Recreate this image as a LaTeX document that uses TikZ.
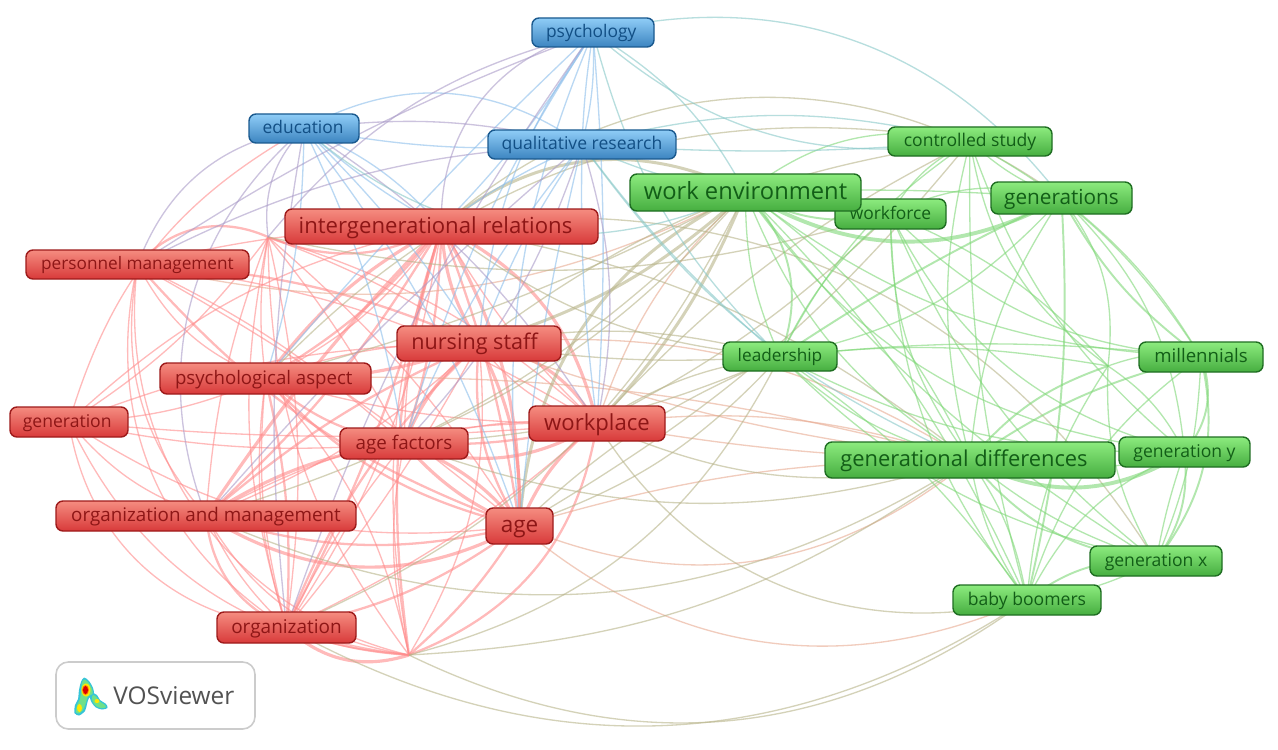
\documentclass[tikz,border=0pt]{standalone}
\usepackage{fontspec}
\setmainfont{Open Sans}
\usetikzlibrary{backgrounds}

\definecolor{redtop}{HTML}{F58C80}
\definecolor{redbot}{HTML}{D83A3A}
\definecolor{redline}{HTML}{9E1B1B}
\definecolor{redtext}{HTML}{8E1616}
\definecolor{greentop}{HTML}{8CEB7E}
\definecolor{greenbot}{HTML}{46AE40}
\definecolor{greenline}{HTML}{1F6E22}
\definecolor{greentext}{HTML}{125E17}
\definecolor{bluetop}{HTML}{8FCDF7}
\definecolor{bluebot}{HTML}{3C84C0}
\definecolor{blueline}{HTML}{1B5A8F}
\definecolor{bluetext}{HTML}{124F85}
\definecolor{logocyan}{HTML}{35C4D8}
\definecolor{logogreen}{HTML}{6FE08A}

\tikzset{
  box/.style 2 args={minimum width=#1*0.02cm, minimum height=#2*0.02cm, inner sep=0pt, rounded corners=4pt, line width=0.8pt},
  rednode/.style={draw=redline, top color=redtop, bottom color=redbot, text=redtext},
  greennode/.style={draw=greenline, top color=greentop, bottom color=greenbot, text=greentext},
  bluenode/.style={draw=blueline, top color=bluetop, bottom color=bluebot, text=bluetext},
  fs/.style={font=\fontsize{#1}{13}\selectfont, text height=#1*0.8pt, text depth=#1*0.2pt},
  thin link/.style={line width=0.75pt, opacity=0.6},
  mid link/.style={line width=1.3pt, opacity=0.6},
  thick link/.style={line width=2.2pt, opacity=0.6},
  redl/.style={draw={rgb,255:red,255;green,140;blue,140}},
  greenl/.style={draw={rgb,255:red,128;green,216;blue,120}},
  bluel/.style={draw={rgb,255:red,140;green,190;blue,235}},
  tanl/.style={draw={rgb,255:red,184;green,180;blue,138}},
  rustl/.style={draw={rgb,255:red,232;green,170;blue,145}},
  purpl/.style={draw={rgb,255:red,170;green,155;blue,200}},
  teall/.style={draw={rgb,255:red,136;green,200;blue,200}}
}

\begin{document}
\begin{tikzpicture}[x=0.02cm, y=-0.02cm]
\useasboundingbox (0,0) rectangle (1278,750);

% hidden items, the links still meet there
\coordinate (hubA) at (268,237);
\coordinate (hubB) at (409,655);
\coordinate (hubC) at (1108,366);

% blue cluster
\node[bluenode, fs=9.9, box={122}{29}] (psych) at (593,32.5) {psychology\hspace*{2pt}};
\node[bluenode, fs=9.9, box={110}{29}] (educ) at (304,128.5) {education\hspace*{1pt}};
\node[bluenode, fs=10, box={188}{29}] (qual) at (582,144.5) {qualitative research};

% green cluster
\node[greennode, fs=9.9, box={111}{30}] (workf) at (890.5,214) {workforce};
\node[greennode, fs=13.5, box={231}{37}] (workenv) at (745.5,192.5) {work environment};
\node[greennode, fs=10, box={164}{29}] (ctrl) at (970,141.5) {controlled study};
\node[greennode, fs=11.8, box={141}{32}] (gens) at (1061.5,198) {generations};
\node[greennode, fs=9.8, box={114}{29}] (lead) at (780,356.5) {leadership};
\node[greennode, fs=10.6, box={124}{30}] (mill) at (1201,357) {millennials};
\node[greennode, fs=12.45, box={290}{36}] (gendiff) at (970,460) {generational differences\hspace*{6.8pt}};
\node[greennode, fs=10, box={131}{30}] (geny) at (1184.5,452) {generation y};
\node[greennode, fs=10, box={132}{30}] (genx) at (1156,561) {generation x};
\node[greennode, fs=10, box={148}{30}] (baby) at (1027,600) {baby boomers};

% red cluster
\node[rednode, fs=12.6, box={313}{35}] (inter) at (441.5,226.5) {intergenerational relations\hspace*{6.8pt}};
\node[rednode, fs=9.8, box={223}{29}] (persm) at (137.5,264.5) {personnel management};
\node[rednode, fs=12.3, box={164}{35}] (nurse) at (479,343.5) {nursing staff\hspace*{5pt}};
\node[rednode, fs=10.6, box={211}{31}] (psyasp) at (265.5,378.5) {psychological aspect\hspace*{2pt}};
\node[rednode, fs=10, box={118}{30}] (genr) at (69,422) {generation\hspace*{2pt}};
\node[rednode, fs=12.6, box={136}{35}] (wplace) at (597,423.5) {workplace};
\node[rednode, fs=10.7, box={128}{31}] (agef) at (404,443.5) {age factors};
\node[rednode, fs=10.7, box={300}{30}] (orgm) at (206,516) {organization and management};
\node[rednode, fs=12.8, box={67}{36}] (age) at (519.5,526) {age};
\node[rednode, fs=10.8, box={139}{31}] (orgn) at (286.5,627.5) {organization};

% logo panel
\node[draw=black!20, line width=0.9pt, fill=white, rounded corners=7pt, minimum width=199*0.02cm, minimum height=67*0.02cm] (logobox) at (155.5,695.5) {};
\node[text=black!68, font=\fontsize{13.9}{16}\selectfont, anchor=west, inner sep=0pt] (logotext) at (113,695.5) {VOSviewer};
\fill[logocyan] plot[smooth cycle] coordinates {(84,677.5) (89,681) (93,688) (94,695) (89,698) (87,704) (85,711) (79,715.5) (74.5,713) (75,705) (78,699) (79,690) (81,682)};
\fill[logocyan] plot[smooth cycle] coordinates {(92,693) (97,695) (100,700) (106,704) (107.5,708) (102,709.5) (96,707.5) (92,703) (90,698)};
\fill[logogreen] plot[smooth cycle] coordinates {(84,679.5) (88,682) (92,689) (92.5,694) (88,696.5) (85.5,704) (83,710) (79,713.5) (76,712) (77,705) (80,699) (81,690) (82,683)};
\fill[logogreen] plot[smooth cycle] coordinates {(93,695) (96.5,697) (99,701) (105,705) (105.5,707.5) (101,708) (96,706) (93,702) (92,698)};
\fill[yellow!90!orange] (86,690) ellipse (4.5 and 6.5);
\fill[yellow!90!orange] (79.5,708) ellipse (2.5 and 4);
\fill[yellow!90!orange] (97,701) ellipse (2.5 and 2);
\fill[orange] (85.5,690) ellipse (3.5 and 5);
\fill[red!85!black] (85.5,690) ellipse (2.5 and 4);

\begin{scope}[on background layer]
\fill[white] (0,0) rectangle (1278,750);

% red links
\foreach \src/\dst/\bnd in {genr/orgn/-38, genr/orgm/-15, genr/agef/-8, genr/psyasp/-10, genr/nurse/10, genr/inter/15, genr/age/-20, genr/hubB/-30, genr/hubA/-10, genr/wplace/-5,
  persm/orgn/-35, persm/hubB/-42, persm/orgm/-25, persm/psyasp/-20, persm/agef/8, persm/age/5, persm/inter/6, persm/wplace/12,
  hubA/orgm/-8, hubA/orgn/10, hubA/psyasp/-8, hubA/agef/5, hubA/age/8, hubA/nurse/6, hubA/wplace/12, hubA/hubB/-18,
  psyasp/orgn/-10, psyasp/wplace/-8, psyasp/hubB/15, psyasp/inter/-14, psyasp/nurse/10,
  orgm/orgn/-10, orgm/hubB/-25, orgm/wplace/15, orgm/nurse/-10,
  orgn/agef/6, orgn/wplace/-8, orgn/nurse/-5, orgn/inter/-12, orgn/psyasp/12, orgn/hubA/14,
  hubB/agef/12, hubB/inter/14, hubB/nurse/-18, hubB/orgn/5,
  agef/inter/8, agef/wplace/10, inter/wplace/-8, nurse/wplace/-18}
  \draw[thin link, redl] (\src.center) to[bend left=\bnd] (\dst.center);
\foreach \src/\dst/\bnd in {persm/hubA/36, hubA/inter/-25, persm/nurse/10, persm/age/-14, inter/psyasp/10, inter/orgn/6, inter/agef/8, nurse/orgn/-12,
  orgm/age/-15, orgn/hubB/-8, hubB/age/-8, hubB/wplace/-30, orgm/orgn/-30, orgn/age/-12, orgm/inter/-8, orgm/nurse/8, psyasp/age/-16, psyasp/agef/-15, nurse/age/-18, inter/hubB/-12,
  wplace/agef/8, psyasp/orgn/8, age/inter/-6}
  \draw[mid link, redl] (\src.center) to[bend left=\bnd] (\dst.center);
\foreach \src/\dst/\bnd in {orgm/age/-30, orgn/hubB/-30, orgm/agef/12, inter/wplace/25, inter/age/15, inter/orgm/-5, inter/nurse/-14, nurse/psyasp/10, nurse/agef/-14, nurse/wplace/24, nurse/age/14, agef/age/-12, agef/age/14, agef/wplace/-25, wplace/age/-14, inter/psyasp/-12}
  \draw[thick link, redl, line width=1.8pt] (\src.center) to[bend left=\bnd] (\dst.center);

% links between the red and the green cluster
\foreach \src/\dst/\bnd in {wplace/gendiff/12, wplace/gendiff/-4, age/gendiff/-31, age/baby/-32, age/gendiff/8, persm/workenv/-20, psyasp/gendiff/8, nurse/gendiff/-6, nurse/gendiff/18, wplace/workenv/14}
  \draw[thin link, rustl] (\src.center) to[bend left=\bnd] (\dst.center);
\foreach \src/\dst/\bnd in {inter/gens/39, psyasp/ctrl/28, inter/genx/33, wplace/baby/-36, orgn/baby/-31, hubB/baby/-31, orgm/gendiff/-28, agef/gendiff/-18, nurse/ctrl/14, wplace/ctrl/10, agef/workenv/-12, psyasp/workenv/-6, nurse/lead/12, nurse/lead/-6, wplace/lead/12, wplace/workf/-8, age/lead/-14, age/lead/10, age/ctrl/-10, agef/lead/-10, inter/lead/-16, inter/gendiff/14, orgm/workenv/-14, hubA/workf/-14, orgn/workenv/-20, hubB/gendiff/-16, hubB/lead/-24, wplace/gendiff/-18}
  \draw[thin link, tanl] (\src.center) to[bend left=\bnd] (\dst.center);
\foreach \src/\dst/\bnd in {inter/workenv/33, age/workenv/30, wplace/workenv/-10, nurse/workenv/-12}
  \draw[mid link, tanl, line width=1.7pt] (\src.center) to[bend left=\bnd] (\dst.center);

% green links
\foreach \src/\dst/\bnd in {workenv/gens/3, workf/gens/20, workenv/mill/-17, workenv/geny/-24, workenv/gendiff/-18, workenv/gendiff/14, workenv/genx/-10, workenv/baby/10, workenv/lead/-12, workenv/ctrl/25,
  ctrl/gens/-10, ctrl/hubC/-22, ctrl/lead/-14, ctrl/workf/-16, ctrl/mill/14, ctrl/gendiff/-14, ctrl/baby/-8, ctrl/geny/-15,
  gens/mill/10, gens/geny/20, gens/hubC/22, gens/lead/18, gens/gendiff/-14,
  workf/lead/-12, workf/gendiff/-18, workf/genx/-14, workf/baby/-18, workf/mill/-20, workf/hubC/12, workf/geny/-24,
  lead/hubC/8, lead/mill/6, lead/gendiff/-14, lead/geny/-14, lead/genx/-16, lead/baby/10,
  hubC/mill/14, hubC/genx/-16, hubC/geny/14, hubC/baby/-14,
  gendiff/baby/-12, gendiff/baby/12, gendiff/genx/-10, gendiff/geny/-12, baby/genx/-10, baby/geny/20, baby/mill/18, genx/geny/4, genx/mill/-10}
  \draw[thin link, greenl] (\src.center) to[bend left=\bnd] (\dst.center);
\foreach \src/\dst/\bnd in {workenv/workf/-20, workenv/lead/33, gendiff/hubC/15, gendiff/mill/10, gendiff/genx/-22, gens/mill/-12, gens/lead/-4, gens/baby/8, baby/genx/20, genx/geny/-20, genx/mill/-25, mill/geny/30}
  \draw[mid link, greenl, line width=1.1pt] (\src.center) to[bend left=\bnd] (\dst.center);
\foreach \src/\dst/\bnd in {workenv/gens/-30, gendiff/geny/-30}
  \draw[thick link, greenl] (\src.center) to[bend left=\bnd] (\dst.center);

% blue links
\foreach \src/\dst/\bnd in {educ/qual/32, educ/qual/-7, psych/qual/8, psych/qual/-3, psych/nurse/-15, psych/agef/-8, psych/age/-14, psych/wplace/4, psych/inter/6, qual/agef/-8, qual/nurse/-7, qual/wplace/-4, qual/inter/-6, qual/age/-4, educ/psyasp/8, educ/nurse/6, educ/agef/8, educ/age/9, educ/inter/12, educ/inter/-6, psych/psyasp/-3}
  \draw[thin link, bluel] (\src.center) to[bend left=\bnd] (\dst.center);
\foreach \src/\dst/\bnd in {educ/genr/-22}
  \draw[thin link, redl] (\src.center) to[bend left=\bnd] (\dst.center);
\foreach \src/\dst/\bnd in {educ/persm/-30, educ/orgm/-35, educ/hubA/-25, educ/orgn/-8, educ/wplace/12, educ/qual/10, psych/hubA/-18, psych/inter/-40, psych/persm/-6, qual/wplace/14, qual/orgm/-4, qual/agef/12, qual/persm/-12, psych/orgn/-8}
  \draw[thin link, purpl] (\src.center) to[bend left=\bnd] (\dst.center);
\foreach \src/\dst/\bnd in {educ/workenv/-33, psych/gens/33, psych/workenv/15, psych/ctrl/-25, psych/lead/-15, qual/gendiff/-15, qual/lead/-6, qual/workenv/-8, qual/ctrl/14, qual/ctrl/-4}
  \draw[thin link, teall] (\src.center) to[bend left=\bnd] (\dst.center);
\end{scope}
\end{tikzpicture}
\end{document}
